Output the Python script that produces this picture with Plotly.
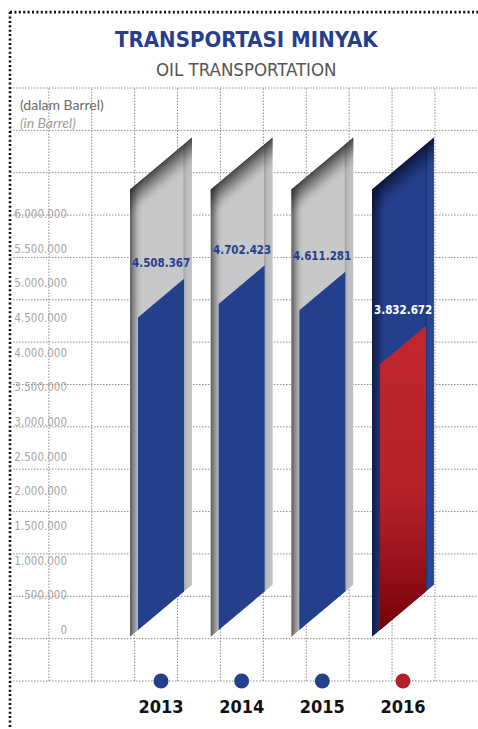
import plotly.graph_objects as go

# ---- data -------------------------------------------------------------
years = ["2013", "2014", "2015", "2016"]
barrels = [4508367, 4702423, 4611281, 3832672]
axis_ticks = list(range(0, 6_000_001, 500_000))

title_id = "TRANSPORTASI MINYAK"
title_en = "OIL TRANSPORTATION"
unit_id = "(dalam Barrel)"
unit_en = "(in Barrel)"

# ---- styling ----------------------------------------------------------
W, H = 478, 729
M_L, M_R, M_T, M_B = 10, 0, 88, 48
X_RANGE = [-1.872, 3.930]
Y_RANGE = [-735_600, 7_817_000]

NARROW = "DejaVu Sans Condensed, DejaVu Sans, sans-serif"
SANS = "Lato, Open Sans, sans-serif"
NAVY = "#243f8c"
RED = "#b81f29"

OUTER_HALF = 0.384      # half width of the track (category units)
INNER_HALF = 0.285      # half width of the value column
SLOPE = 977_000         # rise of the slanted ends per category unit
TRACK_TOP = 6_450_000   # height of the background track
SHADE_DEPTH = 420_000   # depth of the dark band under the track top
SHADE_STEPS = 14

gray_track = [[0, "#5c5c5c"], [0.06, "#8c8c8c"], [0.13, "#b9babc"], [0.2, "#c7c8ca"],
              [0.855, "#c7c8ca"], [0.87, "#a2a3a5"], [0.9, "#b8b9bb"], [1, "#c3c4c6"]]
navy_track = [[0, "#121a40"], [0.06, "#18275a"], [0.13, "#1f3373"], [0.2, "#243f8c"],
              [0.855, "#243f8c"], [0.87, "#1b2f6e"], [0.9, "#2a4593"], [1, "#2b4694"]]
red_fill = [[0, "#760005"], [0.2, "#95111a"], [0.45, "#b6212a"], [1, "#c1272f"]]

highlight = {"2016"}

# decorative dotted grid (paper fractions of the plot area)
GRID_ROWS = 14
GRID_COL0, GRID_COL_STEP, GRID_COLS = 38.85, 42.9, 10   # px from plot left


def slab(x0, x1, base0, base1):
    """Parallelogram between x0 and x1 whose lower and upper edges follow the slant.
    base0/base1 are the lower/upper edge heights measured at x0."""
    xs = [x0, x1, x1, x0, x0]
    ys = [base0, base0 + SLOPE * (x1 - x0), base1 + SLOPE * (x1 - x0), base1, base0]
    return xs, ys


fig = go.Figure()

for i, (yr, v) in enumerate(zip(years, barrels)):
    hot = yr in highlight
    xl_in = i - INNER_HALF
    xl_out = i - OUTER_HALF
    xr_out = i + OUTER_HALF
    drop = SLOPE * (xl_in - xl_out)     # edge offset between track and column

    # background track
    xs, ys = slab(xl_out, xr_out, -drop, TRACK_TOP - drop)
    fig.add_trace(go.Scatter(
        x=xs, y=ys, mode="lines", line=dict(width=0), fill="toself",
        fillgradient=dict(type="horizontal",
                          colorscale=navy_track if hot else gray_track),
        hoverinfo="skip", showlegend=False))

    # dark band fading down from the slanted track top
    shade_rgb = "8,14,42" if hot else "40,40,40"
    for k in range(SHADE_STEPS):
        top = TRACK_TOP - drop - SHADE_DEPTH * k / SHADE_STEPS
        bot = TRACK_TOP - drop - SHADE_DEPTH * (k + 1) / SHADE_STEPS
        a = 0.9 * (1 - (k + 0.5) / SHADE_STEPS) ** 1.5
        xs, ys = slab(xl_out, xr_out, bot, top)
        fig.add_trace(go.Scatter(
            x=xs, y=ys, mode="lines", line=dict(width=0), fill="toself",
            fillcolor=f"rgba({shade_rgb},{a:.3f})",
            hoverinfo="skip", showlegend=False))

    # value column: left edge runs from 0 to the value
    xs, ys = slab(xl_in, i + INNER_HALF, 0, v)
    col = dict(fillgradient=dict(type="vertical", colorscale=red_fill)) if hot \
        else dict(fillcolor=NAVY)
    fig.add_trace(go.Scatter(
        x=xs, y=ys, mode="lines", line=dict(width=0), fill="toself",
        hoverinfo="skip", showlegend=False, **col))

    # value label above the column top
    fig.add_annotation(
        x=i, y=v, yshift=54, showarrow=False,
        text=f"{v:,}".replace(",", "."),
        font=dict(family=NARROW, size=11.5, weight=700,
                  color="#ffffff" if hot else "#253f8e"))

# year markers on the bottom grid line
fig.add_trace(go.Scatter(
    x=list(range(len(years))), y=[Y_RANGE[0]] * len(years), mode="markers",
    marker=dict(size=15, color=[RED if y in highlight else NAVY for y in years]),
    cliponaxis=False, hoverinfo="skip", showlegend=False))

# titles and unit note
fig.add_annotation(xref="paper", yref="paper", x=0.506, y=1.0826, showarrow=False,
                   text=title_id, xanchor="center", yanchor="middle",
                   font=dict(family=NARROW, size=22, weight=700, color="#253f8e"))
fig.add_annotation(xref="paper", yref="paper", x=0.506, y=1.0312, showarrow=False,
                   text=title_en, xanchor="center", yanchor="middle",
                   font=dict(family=NARROW, size=18.5, color="#555555"))
fig.add_annotation(xref="paper", yref="paper", x=0.0171, y=0.9578, showarrow=False,
                   text=f"{unit_id}<br><i><span style='color:#9d9d9d'>{unit_en}</span></i>",
                   xanchor="left", yanchor="middle", align="left",
                   font=dict(family=SANS, size=14, color="#6b6b6b"))

# dotted grid
plot_w = W - M_L - M_R
grid_line = dict(color="#8f8f8f", width=1, dash="1.5px,1.5px")
for r in range(GRID_ROWS + 1):
    fig.add_shape(type="line", xref="paper", yref="paper", layer="below",
                  x0=0, x1=1, y0=r / GRID_ROWS, y1=r / GRID_ROWS, line=grid_line)
for c in range(GRID_COLS):
    gx = (GRID_COL0 + c * GRID_COL_STEP) / plot_w
    fig.add_shape(type="line", xref="paper", yref="paper", layer="below",
                  x0=gx, x1=gx, y0=0, y1=1, line=grid_line)

# dotted frame on the top and left
frame = dict(color="#111111", width=2.6, dash="2px,2.4px")
fig.add_shape(type="line", xref="paper", yref="paper", x0=0, x1=1.0,
              y0=1.128, y1=1.128, line=frame)
fig.add_shape(type="line", xref="paper", yref="paper", x0=0, x1=0,
              y0=1.128, y1=-0.085, line=frame)

fig.update_layout(
    width=W, height=H, margin=dict(l=M_L, r=M_R, t=M_T, b=M_B),
    paper_bgcolor="white", plot_bgcolor="white",
    separators=",.",
    xaxis=dict(range=X_RANGE, tickvals=list(range(len(years))), ticktext=years,
               showgrid=False, zeroline=False, showline=False, ticks="",
               tickfont=dict(family=NARROW, size=18, weight=700, color="#111111"),
               ticklabelstandoff=13),
    yaxis=dict(range=Y_RANGE, tickvals=axis_ticks, tickformat=",d",
               anchor="free", position=0.1218,
               showgrid=False, zeroline=False, showline=False, ticks="",
               tickfont=dict(family=NARROW, size=11.5, color="#a6a6a6")),
)

fig.write_html("out.html")
